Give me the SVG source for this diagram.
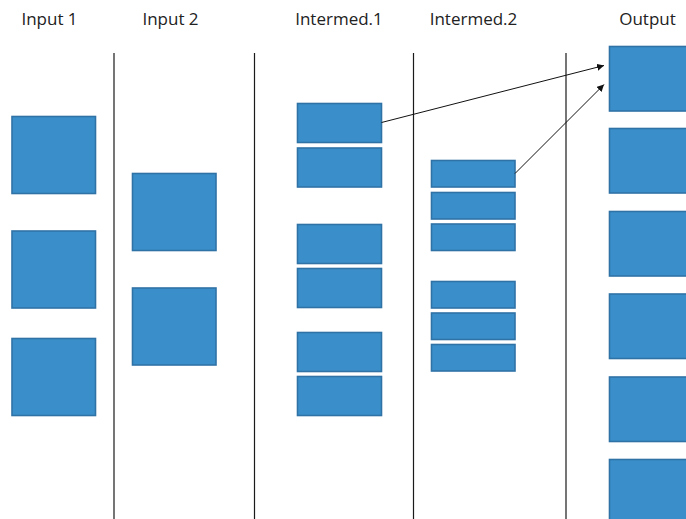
<svg xmlns="http://www.w3.org/2000/svg" width="686" height="519" viewBox="0 0 686 519">
<style>
.lbl{font-family:"Open Sans","Liberation Sans",sans-serif;font-size:17px;fill:#222;text-anchor:middle}
.box{fill:#3A8FCA;stroke:#2F72A6;stroke-width:1.6}
.div{stroke:#1a1a1a;stroke-width:1.2}
.conn{stroke:#111;stroke-width:1;fill:none;marker-end:url(#ah)}
</style>
<defs>
<marker id="ah" viewBox="0 0 10 10" refX="10" refY="5" markerWidth="7" markerHeight="7" orient="auto" markerUnits="userSpaceOnUse">
<path d="M0,0 L10,5 L0,10 z" fill="#111"/>
</marker>
</defs>
<rect width="686" height="519" fill="#fff"/>
<g id="labels">
<text class="lbl" x="49.5" y="25">Input 1</text>
<text class="lbl" x="170.5" y="25">Input 2</text>
<text class="lbl" x="339" y="25">Intermed.1</text>
<text class="lbl" x="473.5" y="25">Intermed.2</text>
<text class="lbl" x="647.5" y="25">Output</text>
</g>
<g id="dividers">
<line class="div" x1="114" y1="53" x2="114" y2="519"/>
<line class="div" x1="254.5" y1="53" x2="254.5" y2="519"/>
<line class="div" x1="413.5" y1="53" x2="413.5" y2="519"/>
<line class="div" x1="566" y1="53" x2="566" y2="519"/>
</g>
<g id="input1">
<rect class="box" x="12" y="116.5" width="83.5" height="77"/>
<rect class="box" x="12" y="231" width="83.5" height="77"/>
<rect class="box" x="12" y="338.5" width="83.5" height="77"/>
</g>
<g id="input2">
<rect class="box" x="132.5" y="173.5" width="83.5" height="77"/>
<rect class="box" x="132.5" y="288" width="83.5" height="77"/>
</g>
<g id="intermed1">
<rect class="box" x="297.5" y="103.5" width="84" height="39"/>
<rect class="box" x="297.5" y="148" width="84" height="39"/>
<rect class="box" x="297.5" y="224.5" width="84" height="39"/>
<rect class="box" x="297.5" y="268.5" width="84" height="39"/>
<rect class="box" x="297.5" y="332.5" width="84" height="39"/>
<rect class="box" x="297.5" y="376.5" width="84" height="39"/>
</g>
<g id="intermed2">
<rect class="box" x="431.5" y="160.5" width="83.5" height="26.5"/>
<rect class="box" x="431.5" y="192.5" width="83.5" height="26.5"/>
<rect class="box" x="431.5" y="224" width="83.5" height="26.5"/>
<rect class="box" x="431.5" y="281.5" width="83.5" height="26.5"/>
<rect class="box" x="431.5" y="313" width="83.5" height="26.5"/>
<rect class="box" x="431.5" y="344.5" width="83.5" height="26.5"/>
</g>
<g id="output">
<rect class="box" x="609.5" y="46.5" width="85" height="64.5"/>
<rect class="box" x="609.5" y="128.5" width="85" height="64.5"/>
<rect class="box" x="609.5" y="211.5" width="85" height="64.5"/>
<rect class="box" x="609.5" y="294" width="85" height="64.5"/>
<rect class="box" x="609.5" y="377" width="85" height="64.5"/>
<rect class="box" x="609.5" y="459.5" width="85" height="64.5"/>
</g>
<g id="connectors">
<line class="conn" x1="381.5" y1="122.5" x2="604" y2="65.5"/>
<line class="conn" x1="515" y1="173.5" x2="604" y2="84.5"/>
</g>
</svg>
